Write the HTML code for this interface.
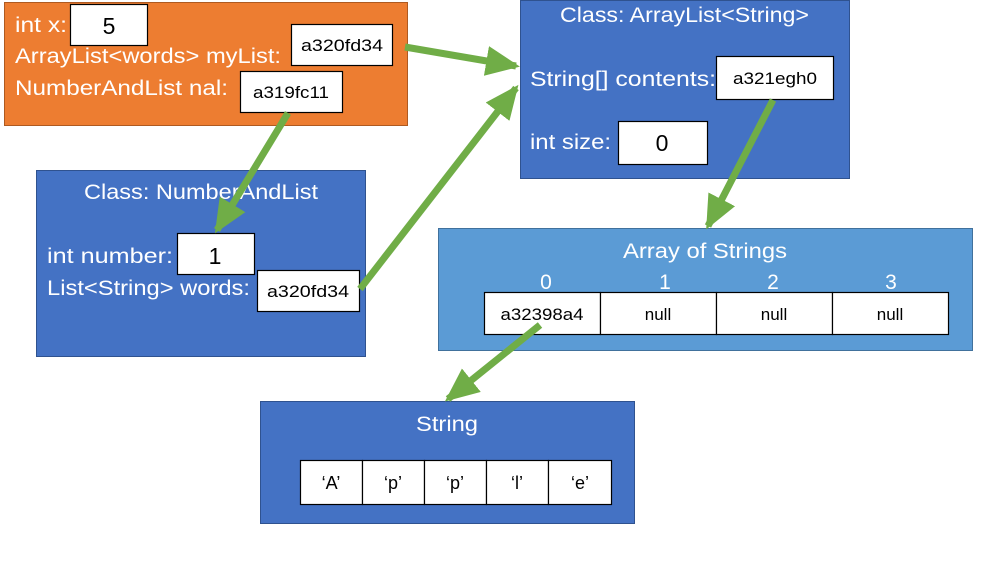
<!DOCTYPE html>
<html><head><style>body{margin:0;background:#fff}svg{display:block}text{font-family:"Liberation Sans",sans-serif}</style></head><body>
<svg width="997" height="561" viewBox="0 0 997 561">
<defs><marker id="a" markerUnits="userSpaceOnUse" markerWidth="40" markerHeight="40" refX="30" refY="15" orient="auto"><path d="M0,0 L34,15 L0,30 Z" fill="#70AD47"/></marker></defs>
<rect x="4.5" y="2.5" width="403" height="123" fill="#ED7D31" stroke="#AE5A21"/>
<g fill="#fff" font-size="21" lengthAdjust="spacingAndGlyphs">
<text x="15" y="32" textLength="52" lengthAdjust="spacingAndGlyphs">int x:</text>
<text x="15" y="63" textLength="266" lengthAdjust="spacingAndGlyphs">ArrayList&lt;words&gt; myList:</text>
<text x="15" y="95" textLength="213" lengthAdjust="spacingAndGlyphs">NumberAndList nal:</text>
</g>
<g fill="#fff" stroke="#000" stroke-width="1.2">
<rect x="70.5" y="4.5" width="77" height="41"/>
<rect x="291.5" y="24.5" width="101" height="41"/>
<rect x="240.5" y="71.5" width="102" height="41"/>
</g>
<g font-size="17" text-anchor="middle">
<text x="109" y="34" font-size="23">5</text>
<text x="342" y="51" textLength="82" lengthAdjust="spacingAndGlyphs">a320fd34</text>
<text x="291" y="98" textLength="76" lengthAdjust="spacingAndGlyphs">a319fc11</text>
</g>
<rect x="36.5" y="170.5" width="329" height="186" fill="#4472C4" stroke="#2F528F"/>
<g fill="#fff" font-size="21">
<text x="84" y="199" textLength="234" lengthAdjust="spacingAndGlyphs">Class: NumberAndList</text>
<text x="47" y="263" textLength="126" lengthAdjust="spacingAndGlyphs">int number:</text>
<text x="47" y="295" textLength="203" lengthAdjust="spacingAndGlyphs">List&lt;String&gt; words:</text>
</g>
<rect x="177.5" y="233.5" width="77" height="41" fill="#fff" stroke="#000" stroke-width="1.2"/>
<rect x="257.5" y="270.5" width="102" height="41" fill="#fff" stroke="#000" stroke-width="1.2"/>
<text x="215" y="264" font-size="23" text-anchor="middle">1</text>
<text x="308" y="297" font-size="17" text-anchor="middle" textLength="82" lengthAdjust="spacingAndGlyphs">a320fd34</text>
<rect x="520.5" y="0.5" width="329" height="178" fill="#4472C4" stroke="#2F528F"/>
<g fill="#fff" font-size="21">
<text x="560" y="22" textLength="249" lengthAdjust="spacingAndGlyphs">Class: ArrayList&lt;String&gt;</text>
<text x="530" y="86" textLength="186" lengthAdjust="spacingAndGlyphs">String[] contents:</text>
<text x="530" y="149" textLength="81" lengthAdjust="spacingAndGlyphs">int size:</text>
</g>
<rect x="716.5" y="56.5" width="117" height="43" fill="#fff" stroke="#000" stroke-width="1.2"/>
<rect x="618.5" y="121.5" width="89" height="43" fill="#fff" stroke="#000" stroke-width="1.2"/>
<text x="775" y="84" font-size="17" text-anchor="middle" textLength="84" lengthAdjust="spacingAndGlyphs">a321egh0</text>
<text x="662" y="151" font-size="23" text-anchor="middle">0</text>
<rect x="438.5" y="228.5" width="534" height="122" fill="#5B9BD5" stroke="#41719C"/>
<g fill="#fff" font-size="21" text-anchor="middle">
<text x="705" y="258" textLength="164" lengthAdjust="spacingAndGlyphs">Array of Strings</text>
<text x="546" y="289">0</text><text x="665" y="289">1</text><text x="773" y="289">2</text><text x="891" y="289">3</text>
</g>
<g fill="#fff" stroke="#000" stroke-width="1.2">
<rect x="484.5" y="292.5" width="116" height="42"/><rect x="600.5" y="292.5" width="116" height="42"/><rect x="716.5" y="292.5" width="116" height="42"/><rect x="832.5" y="292.5" width="116" height="42"/>
</g>
<g font-size="17" text-anchor="middle">
<text x="542" y="320" textLength="83" lengthAdjust="spacingAndGlyphs">a32398a4</text><text x="658" y="320">null</text><text x="774" y="320">null</text><text x="890" y="320">null</text>
</g>
<rect x="260.5" y="401.5" width="374" height="122" fill="#4472C4" stroke="#2F528F"/>
<text x="447" y="431" fill="#fff" font-size="21" text-anchor="middle" textLength="62" lengthAdjust="spacingAndGlyphs">String</text>
<g fill="#fff" stroke="#000" stroke-width="1.2">
<rect x="300.5" y="460.5" width="62" height="44"/><rect x="362.5" y="460.5" width="62" height="44"/><rect x="424.5" y="460.5" width="62" height="44"/><rect x="486.5" y="460.5" width="62" height="44"/><rect x="548.5" y="460.5" width="63" height="44"/>
</g>
<g font-size="18" text-anchor="middle">
<text x="331" y="489">‘A’</text><text x="393" y="489">‘p’</text><text x="455" y="489">‘p’</text><text x="517" y="489">‘l’</text><text x="580" y="489">‘e’</text>
</g>
<g stroke="#70AD47" stroke-width="7" fill="none">
<line x1="405" y1="47" x2="516" y2="66" marker-end="url(#a)"/>
<line x1="360" y1="289" x2="516" y2="88" marker-end="url(#a)"/>
<line x1="288" y1="113" x2="217" y2="230" marker-end="url(#a)"/>
<line x1="773" y1="100" x2="708" y2="226" marker-end="url(#a)"/>
<line x1="540" y1="325" x2="448" y2="399" marker-end="url(#a)"/>
</g>
</svg>
</body></html>
